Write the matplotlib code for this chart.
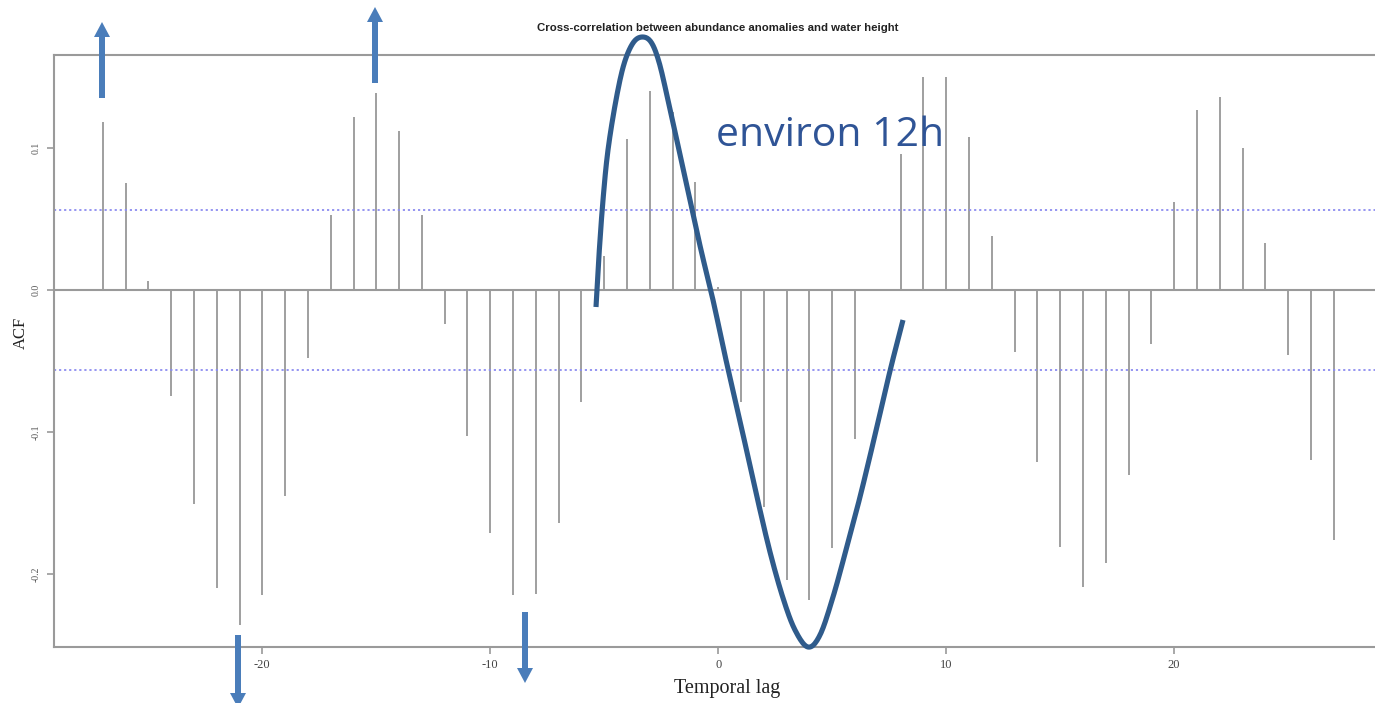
import numpy as np
import matplotlib
matplotlib.use("Agg")
import matplotlib.pyplot as plt
from matplotlib.patches import FancyArrow

# ---------------- data ----------------
lags = list(range(-27, 28))
acf = [0.118, 0.075, 0.006, -0.075, -0.151, -0.210, -0.236, -0.215, -0.145, -0.048,
       0.053, 0.122, 0.139, 0.112, 0.053, -0.024, -0.103, -0.171, -0.215, -0.214,
       -0.164, -0.079, 0.024, 0.106, 0.140, 0.125, 0.076, 0.002, -0.079, -0.153,
       -0.204, -0.218, -0.182, -0.105, 0.0, 0.096, 0.150, 0.150, 0.108, 0.038,
       -0.044, -0.121, -0.181, -0.209, -0.192, -0.130, -0.038, 0.062, 0.127, 0.136,
       0.100, 0.033, -0.046, -0.120, -0.176]
conf_limit = 0.0566
x_ticks = [-20, -10, 0, 10, 20]
y_ticks = [-0.2, -0.1, 0.0, 0.1]
y_tick_labels = ["-0.2", "-0.1", "0.0", "0.1"]
title = "Cross-correlation between abundance anomalies and water height"
xlabel = "Temporal lag"
ylabel = "ACF"
note = "environ 12h"

# hand-drawn annotation overlay (figure pixel coordinates)
curve_x = [596, 599, 603, 608, 616, 624, 633, 642, 651, 659, 668,
           679, 690, 701, 713, 726, 742, 757, 770, 783, 795, 808, 820, 833, 846,
           860, 875, 890, 903]
curve_y = [307, 255, 200, 150, 100, 64, 43, 37, 42, 62, 100,
           150, 200, 250, 300, 360, 430, 497, 552, 598, 630, 647, 635, 597, 550,
           497, 435, 371, 320]
arrow_x = [102, 375, 238, 525]
arrow_tail = [98, 83, 635, 612]
arrow_tip = [22, 7, 708, 683]


def catmull_rom(xs, ys, n=12):
    p = np.column_stack([xs, ys]).astype(float)
    p = np.vstack([2 * p[0] - p[1], p, 2 * p[-1] - p[-2]])
    out = []
    t = np.linspace(0, 1, n, endpoint=False)[:, None]
    for i in range(1, len(p) - 2):
        p0, p1, p2, p3 = p[i - 1], p[i], p[i + 1], p[i + 2]
        seg = 0.5 * ((2 * p1) + (-p0 + p2) * t + (2 * p0 - 5 * p1 + 4 * p2 - p3) * t ** 2
                     + (-p0 + 3 * p1 - 3 * p2 + p3) * t ** 3)
        out.append(seg)
    out.append(p[-2][None, :])
    out = np.vstack(out)
    return out[:, 0], out[:, 1]


# ---------------- figure ----------------
W, H = 1375, 703
fig = plt.figure(figsize=(W / 100, H / 100), dpi=100)
fig.patch.set_facecolor("white")

axc = "#9a9a9a"
ax = fig.add_axes([53.5 / W, (H - 647) / H, (1383 - 53.5) / W, (647 - 54.8) / H])
ax.vlines(lags, 0, acf, color="#8f8f8f", linewidth=1.2)
ax.axhline(0, color=axc, linewidth=1.5)
for s in (conf_limit, -conf_limit):
    ax.axhline(s, color="#8c8cf0", linewidth=1.3, linestyle=(0, (1.2, 1.6)))

ax.set_xlim(-29.16, 29.16)
ax.set_ylim(-0.2514, 0.1656)
for side in ("left", "bottom", "top"):
    ax.spines[side].set_color(axc)
    ax.spines[side].set_linewidth(1.5)
ax.spines["right"].set_visible(False)

ax.set_xticks(x_ticks)
ax.set_xticklabels([str(v) for v in x_ticks], family="Liberation Serif", fontsize=9, color="#444444")
ax.set_yticks(y_ticks)
ax.set_yticklabels(y_tick_labels, family="Liberation Serif", fontsize=7, color="#555555",
                   rotation=90, va="center")
ax.tick_params(axis="both", direction="out", length=5, width=1.2, color=axc, pad=4)

# ---------------- overlay (pixel space) ----------------
ov = fig.add_axes([0, 0, 1, 1], facecolor="none")
ov.set_xlim(0, W)
ov.set_ylim(H, 0)
ov.axis("off")

ov.text(718, 28, title, ha="center", va="center", fontsize=8.2, fontweight="bold",
        family="Liberation Sans", color="#222222")
ov.text(727, 688, xlabel, ha="center", va="center", fontsize=14.5,
        family="Liberation Serif", color="#222222")
ov.text(21, 333, ylabel, ha="center", va="center", fontsize=12, rotation=90,
        family="Liberation Serif", color="#222222")

cx, cy = catmull_rom(curve_x, curve_y)
ov.plot(cx, cy, color="#2F5B8B", linewidth=3.7, solid_capstyle="butt",
        solid_joinstyle="round")
ov.text(716, 146, note, ha="left", va="baseline", fontsize=29.5, family="Open Sans",
        color="#2F5496")

for x, t0, t1 in zip(arrow_x, arrow_tail, arrow_tip):
    ov.add_patch(FancyArrow(x, t0, 0, t1 - t0, width=6, head_width=16, head_length=15,
                            length_includes_head=True, color="#4A7DBA", linewidth=0))

fig.savefig("out.png", dpi=100, facecolor="white")
